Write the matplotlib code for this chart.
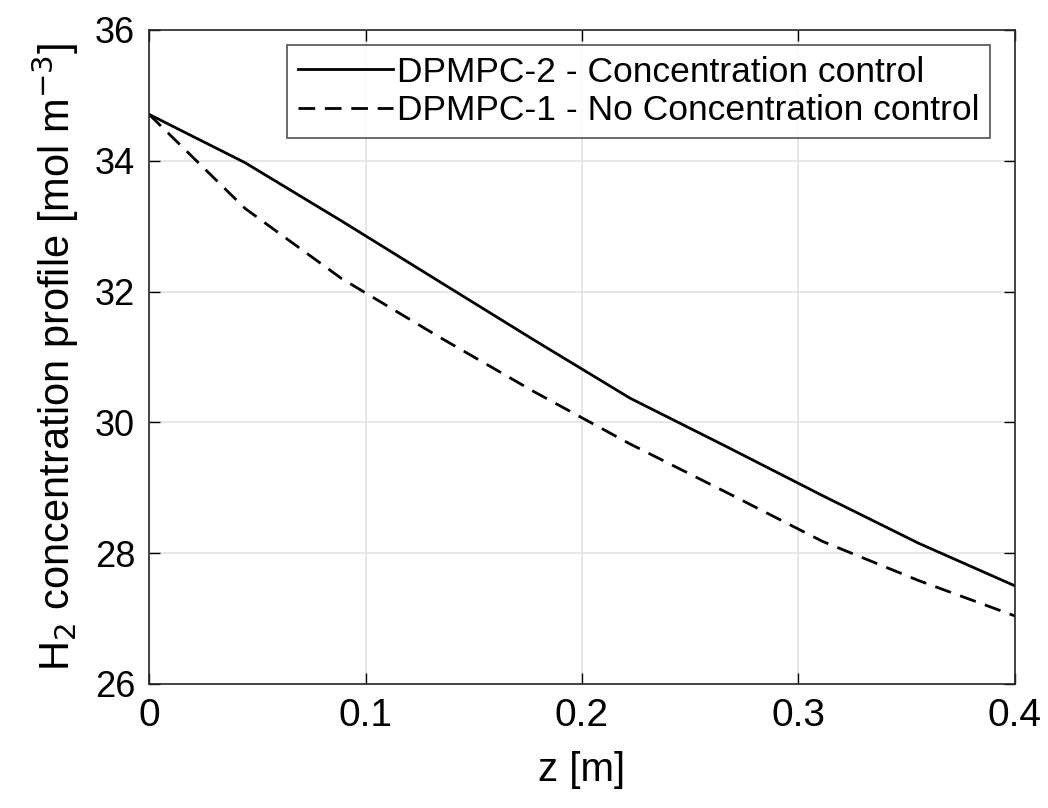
import numpy as np
import matplotlib
matplotlib.use("Agg")
import matplotlib.pyplot as plt

# Axial position [m] and H2 concentration [mol m^-3]
z = [0.0, 0.0444, 0.0889, 0.1333, 0.1778, 0.2222, 0.2667, 0.3111, 0.3556, 0.4]
conc_ctrl = [34.71, 33.97, 33.08, 32.17, 31.26, 30.37, 29.63, 28.88, 28.15, 27.50]
conc_noctrl = [34.71, 33.27, 32.20, 31.32, 30.47, 29.67, 28.93, 28.18, 27.58, 27.04]

label_ctrl = "DPMPC-2 - Concentration control"
label_noctrl = "DPMPC-1 - No Concentration control"

plt.rcParams['font.family'] = ['Liberation Sans', 'DejaVu Sans']

fig = plt.figure(figsize=(10.48, 8.08), dpi=100)
ax = fig.add_axes([0.1422, 0.1535, 0.8263, 0.8094])

ax.plot(z, conc_ctrl, color='black', linestyle='-', linewidth=2.0, label=label_ctrl)
ax.plot(z, conc_noctrl, color='black', linestyle=(0, (6, 3.5)), linewidth=2.0, label=label_noctrl)

ax.set_xlim(0, 0.4)
ax.set_ylim(26, 36)
ax.set_xticks([0, 0.1, 0.2, 0.3, 0.4])
ax.set_xticklabels(['0', '0.1', '0.2', '0.3', '0.4'], fontsize=28)
ax.set_yticks(np.arange(26, 37, 2))
ax.set_yticklabels([str(v) for v in range(26, 37, 2)], fontsize=26)

ax.grid(True, color='#e3e3e3', linewidth=1.2)
ax.tick_params(direction='in', length=8, width=1.0, top=True, right=True, pad=10)
for s in ax.spines.values():
    s.set_linewidth(1.2)
    s.set_color('#262626')

ax.set_xlabel('z [m]', fontsize=29, labelpad=12)
ax.set_ylabel('H$_2$ concentration profile [mol m$^{-3}$]', fontsize=30, labelpad=10)

leg = ax.legend(loc='upper right', bbox_to_anchor=(0.971, 0.977),
                prop={'size': 25.5}, frameon=True, fancybox=False,
                edgecolor='#262626', handlelength=2.7, handletextpad=0.1,
                borderpad=0.3, labelspacing=0.15, borderaxespad=0)
leg.get_frame().set_linewidth(1.2)

fig.savefig('out.png', dpi=100)
